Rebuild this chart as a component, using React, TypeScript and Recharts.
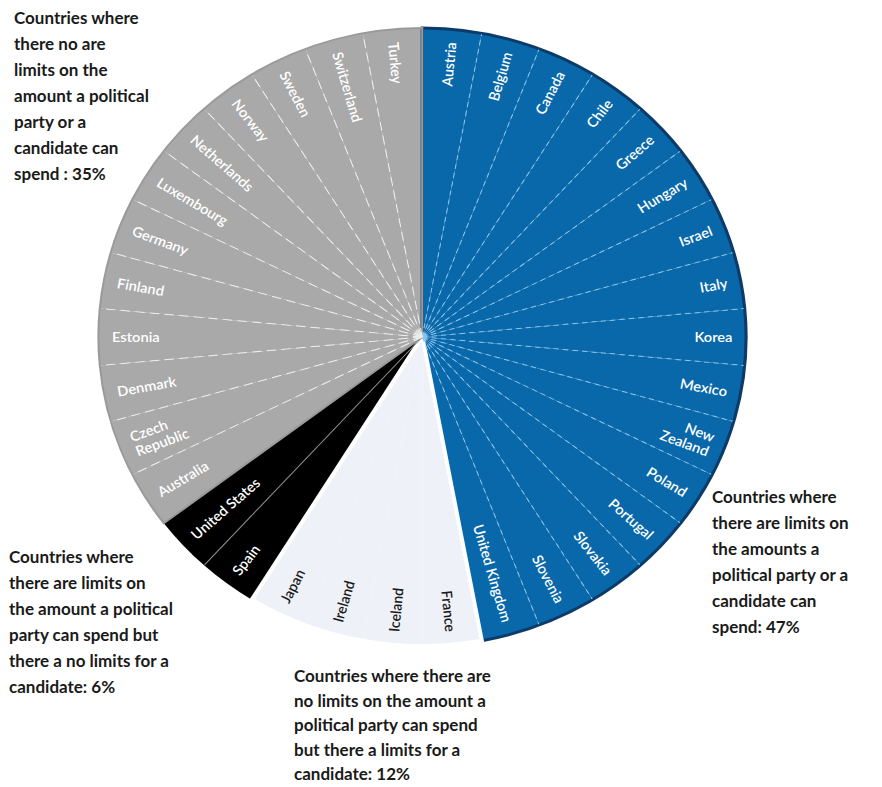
import React from "react";
import { PieChart, Pie, Cell } from "recharts";

// Countries per category, clockwise from 12 o'clock
const limitsBoth = ["Austria", "Belgium", "Canada", "Chile", "Greece", "Hungary", "Israel", "Italy", "Korea", "Mexico", "New Zealand", "Poland", "Portugal", "Slovakia", "Slovenia", "United Kingdom"];
const limitsCandidateOnly = ["France", "Iceland", "Ireland", "Japan"];
const limitsPartyOnly = ["Spain", "United States"];
const noLimits = ["Australia", "Czech Republic", "Denmark", "Estonia", "Finland", "Germany", "Luxembourg", "Netherlands", "Norway", "Sweden", "Switzerland", "Turkey"];

const groups = [
  { key: "both", list: limitsBoth, fill: "#0868aa", edge: "#0b3b6a", edgeW: 3, divider: "#8cc4ea", dash: "5 4", text: "#ffffff" },
  { key: "cand", list: limitsCandidateOnly, fill: "#eef1f7", edge: "#ffffff", edgeW: 4, divider: "none", dash: "", text: "#1a1a1a" },
  { key: "party", list: limitsPartyOnly, fill: "#000000", edge: "#000000", edgeW: 0, divider: "#8a8a8a", dash: "", text: "#ffffff" },
  { key: "none", list: noLimits, fill: "#a9a9a9", edge: "#9a9a9a", edgeW: 2, divider: "#eeeeee", dash: "9 5", text: "#ffffff" },
];

const countries = groups.flatMap((g) => g.list.map((name) => ({ name, group: g.key, value: 1 })));
const groupTotals = groups.map((g) => ({ name: g.key, value: g.list.length }));

const RAD = Math.PI / 180;
const groupOf = (k: string) => groups.find((g) => g.key === k)!;

function renderLabel(props: any) {
  const { cx, cy, midAngle, startAngle, outerRadius, index } = props;
  const item = countries[index];
  const g = groupOf(item.group);
  const r = outerRadius - 13;
  const x = cx + r * Math.cos(-midAngle * RAD);
  const y = cy + r * Math.sin(-midAngle * RAD);
  const rightHalf = midAngle > -90;
  const rot = rightHalf ? -midAngle : 180 - midAngle;
  const anchor = rightHalf ? "end" : "start";
  const lines = item.name === "New Zealand" ? ["New", "Zealand"] : item.name === "Czech Republic" ? ["Czech", "Republic"] : [item.name];

  const prev = countries[index - 1];
  const showDivider = prev && prev.group === item.group && g.divider !== "none";
  const ex = cx + (outerRadius - 1) * Math.cos(-startAngle * RAD);
  const ey = cy + (outerRadius - 1) * Math.sin(-startAngle * RAD);

  return (
    <g key={`lbl-${index}`}>
      {showDivider && (
        <line x1={cx} y1={cy} x2={ex} y2={ey} stroke={g.divider} strokeWidth={1} strokeDasharray={g.dash || undefined} />
      )}
      <text
        x={x}
        y={y}
        transform={`rotate(${rot} ${x} ${y})`}
        textAnchor={anchor}
        dominantBaseline="central"
        fill={g.text}
        fontSize={14}
        fontWeight={600}
        fontFamily="Lato, 'Noto Sans', sans-serif"
      >
        {lines.length === 1
          ? lines[0]
          : lines.map((l, i) => (
              <tspan key={l} x={x} dy={i === 0 ? "-0.55em" : "1.1em"}>
                {l}
              </tspan>
            ))}
      </text>
    </g>
  );
}

const noteStyle: React.CSSProperties = {
  position: "absolute",
  fontFamily: "Lato, 'Noto Sans', sans-serif",
  fontSize: 17,
  fontWeight: 700,
  lineHeight: "26px",
  color: "#1a1a1a",
  whiteSpace: "nowrap",
};

export default function App() {
  return (
    <div style={{ position: "absolute", left: 0, top: 0, width: 882, height: 787, background: "#fff", overflow: "hidden" }}>
      <div style={{ position: "absolute", left: 0, top: 0, width: 882, height: 787, transform: "scaleX(1.048)", transformOrigin: "417px 332px" }}>
        <PieChart width={882} height={787}>
          <Pie
            data={countries}
            dataKey="value"
            cx={417}
            cy={332}
            outerRadius={309}
            startAngle={90}
            endAngle={-270}
            stroke="none"
            label={renderLabel}
            labelLine={false}
            isAnimationActive={false}
          >
            {countries.map((c, i) => (
              <Cell key={i} fill={groupOf(c.group).fill} />
            ))}
          </Pie>
          <Pie
            data={groupTotals}
            dataKey="value"
            cx={417}
            cy={332}
            outerRadius={309}
            startAngle={90}
            endAngle={-270}
            isAnimationActive={false}
          >
            {groups.map((g) => (
              <Cell key={g.key} fill="none" stroke={g.edgeW ? g.edge : "none"} strokeWidth={g.edgeW} />
            ))}
          </Pie>
        </PieChart>
      </div>

      <div style={{ ...noteStyle, left: 14, top: 5 }}>
        Countries where<br />there no are<br />limits on the<br />amount a political<br />party or a<br />candidate can<br />spend : 35%
      </div>
      <div style={{ ...noteStyle, left: 9, top: 544 }}>
        Countries where<br />there are limits on<br />the amount a political<br />party can spend but<br />there a no limits for a<br />candidate: 6%
      </div>
      <div style={{ ...noteStyle, left: 294, top: 664, lineHeight: "24.5px" }}>
        Countries where there are<br />no limits on the amount a<br />political party can spend<br />but there a limits for a<br />candidate: 12%
      </div>
      <div style={{ ...noteStyle, left: 712, top: 484 }}>
        Countries where<br />there are limits on<br />the amounts a<br />political party or a<br />candidate can<br />spend: 47%
      </div>
    </div>
  );
}
